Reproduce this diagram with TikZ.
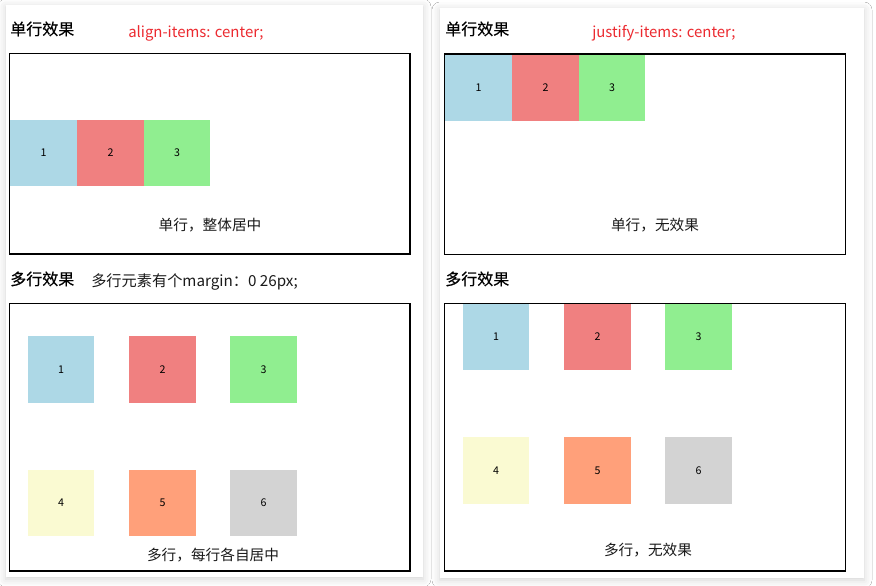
\documentclass[tikz,border=0pt]{standalone}
\usepackage{fontspec}
\setmainfont{Noto Sans CJK SC}
\newfontfamily\titlefont[FakeBold=0.4]{Noto Sans CJK SC}
\usetikzlibrary{shadows.blur}
\definecolor{cLB}{HTML}{ADD8E6}
\definecolor{cLC}{HTML}{F08080}
\definecolor{cLG}{HTML}{90EE90}
\definecolor{cLY}{HTML}{FAFAD2}
\definecolor{cLS}{HTML}{FFA07A}
\definecolor{cGR}{HTML}{D3D3D3}
\definecolor{cRed}{HTML}{EC2A30}
\definecolor{cTxt}{HTML}{1A1A1A}
\tikzset{
  panel/.style={fill=white, draw=none, blur shadow={shadow xshift=0pt, shadow yshift=-1.5pt, shadow blur radius=6pt, shadow blur extra rounding=0pt, shadow opacity=18}},
  frame/.style={draw=black, line width=0.8pt},
  item/.style={draw=none, minimum width=50pt, minimum height=50pt, inner sep=0pt, font=\fontsize{8}{9}\selectfont, text=black},
  title/.style={anchor=base west, inner sep=0pt, font=\titlefont\fontsize{12}{14}\selectfont, text=black},
  redtxt/.style={anchor=base west, inner sep=0pt, font=\fontsize{11.2}{13}\selectfont, text=cRed},
  note/.style={anchor=base west, inner sep=0pt, font=\fontsize{11.4}{13}\selectfont, text=cTxt},
  caption/.style={inner sep=0pt, font=\fontsize{11}{13}\selectfont, text=cTxt}
}
\begin{document}
\begin{tikzpicture}[x=0.75pt, y=-0.75pt]
\useasboundingbox (0,0) rectangle (876,586);
\fill[white] (0,0) rectangle (876,586);
% panels
\path[panel] (6,5) rectangle (423,577);
\path[panel] (440,8) rectangle (864,578);

% ===== Left panel =====
\node[title] (lt1) at (10,35) {单行效果};
\node[redtxt] (lr1) at (128,37) {align-items: center;};
\draw[frame] (9.5,53.5) rectangle (410,254);
\node[item, fill=cLB] (l1) at (43.5,153) {1};
\node[item, fill=cLC] (l2) at (110.5,153) {2};
\node[item, fill=cLG] (l3) at (177,153) {3};
\node[caption] (lc1) at (210,225) {单行，整体居中};

\node[title] (lt2) at (10,285) {多行效果};
\node[note] (ln2) at (91,286) {多行元素有个margin：0 26px;};
\draw[frame] (9.5,303.5) rectangle (410,571);
\node[item, fill=cLB] (m1) at (61,369.5) {1};
\node[item, fill=cLC] (m2) at (162.5,369.5) {2};
\node[item, fill=cLG] (m3) at (263.5,369.5) {3};
\node[item, fill=cLY] (m4) at (61,503) {4};
\node[item, fill=cLS] (m5) at (162.5,503) {5};
\node[item, fill=cGR] (m6) at (263.5,503) {6};
\node[caption] (lc2) at (213,555) {多行，每行各自居中};

% ===== Right panel =====
\node[title] (rt1) at (445,35) {单行效果};
\node[redtxt] (rr1) at (592,37) {justify-items: center;};
\node[item, fill=cLB] (r1) at (478.5,87.5) {1};
\node[item, fill=cLC] (r2) at (545.5,87.5) {2};
\node[item, fill=cLG] (r3) at (612,87.5) {3};
\draw[frame] (444.5,54) rectangle (845.5,254.5);
\node[caption] (rc1) at (655,225) {单行，无效果};

\node[title] (rt2) at (445,285) {多行效果};
\node[item, fill=cLB] (s1) at (496,337) {1};
\node[item, fill=cLC] (s2) at (597.5,337) {2};
\node[item, fill=cLG] (s3) at (698.5,337) {3};
\node[item, fill=cLY] (s4) at (496,470.5) {4};
\node[item, fill=cLS] (s5) at (597.5,470.5) {5};
\node[item, fill=cGR] (s6) at (698.5,470.5) {6};
\draw[frame] (444.5,303.5) rectangle (845.5,571);
\node[caption] (rc2) at (648,550) {多行，无效果};
\end{tikzpicture}
\end{document}
